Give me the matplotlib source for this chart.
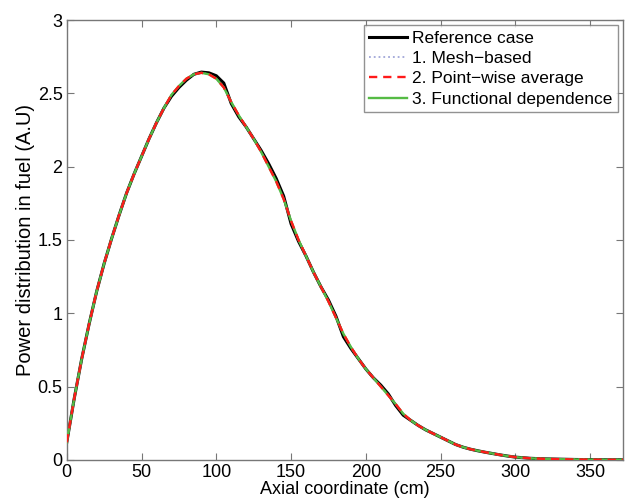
import matplotlib
matplotlib.use("Agg")
import matplotlib.pyplot as plt

plt.rcParams['font.family'] = ['Liberation Sans', 'DejaVu Sans']

# Axial coordinate (cm)
x = [0, 5, 10, 15, 20, 25, 30, 35, 40, 45, 50, 55, 60, 65, 70, 75, 80, 85, 90,
     95, 100, 105, 110, 115, 120, 125, 130, 135, 140, 145, 150, 155, 160, 165,
     170, 175, 180, 185, 190, 195, 200, 205, 210, 215, 220, 225, 230, 235, 240,
     245, 250, 255, 260, 265, 270, 275, 280, 285, 290, 295, 300, 310, 320, 330,
     340, 350, 360, 372]
# 3. Functional dependence
func = [0.12, 0.42, 0.69, 0.93, 1.15, 1.34, 1.51, 1.67, 1.82, 1.95, 2.07, 2.19,
        2.30, 2.40, 2.49, 2.55, 2.60, 2.63, 2.64, 2.63, 2.60, 2.54, 2.44, 2.35,
        2.27, 2.19, 2.10, 2.00, 1.90, 1.78, 1.63, 1.50, 1.39, 1.28, 1.18, 1.08,
        0.97, 0.86, 0.77, 0.69, 0.62, 0.56, 0.50, 0.44, 0.38, 0.315, 0.27, 0.235,
        0.205, 0.18, 0.155, 0.13, 0.105, 0.087, 0.073, 0.062, 0.052, 0.043,
        0.034, 0.026, 0.019, 0.011, 0.007, 0.005, 0.003, 0.002, 0.001, 0.001]
# 2. Point-wise average
pwa = [0.12, 0.42, 0.69, 0.93, 1.15, 1.34, 1.51, 1.67, 1.82, 1.95, 2.07, 2.19,
       2.30, 2.40, 2.49, 2.55, 2.60, 2.63, 2.64, 2.63, 2.60, 2.54, 2.44, 2.35,
       2.27, 2.19, 2.10, 2.00, 1.90, 1.78, 1.63, 1.50, 1.39, 1.28, 1.18, 1.08,
       0.97, 0.86, 0.77, 0.69, 0.62, 0.56, 0.50, 0.44, 0.38, 0.315, 0.27, 0.235,
       0.205, 0.18, 0.155, 0.13, 0.105, 0.087, 0.073, 0.062, 0.052, 0.043,
       0.034, 0.026, 0.019, 0.011, 0.007, 0.005, 0.003, 0.002, 0.001, 0.001]
# 1. Mesh-based
mesh = [0.12, 0.42, 0.69, 0.93, 1.15, 1.34, 1.51, 1.67, 1.82, 1.95, 2.07, 2.19,
        2.30, 2.40, 2.49, 2.55, 2.60, 2.63, 2.64, 2.63, 2.60, 2.54, 2.44, 2.35,
        2.27, 2.19, 2.10, 2.00, 1.90, 1.78, 1.63, 1.50, 1.39, 1.28, 1.18, 1.08,
        0.97, 0.86, 0.77, 0.69, 0.62, 0.56, 0.50, 0.44, 0.38, 0.315, 0.27, 0.235,
        0.205, 0.18, 0.155, 0.13, 0.105, 0.087, 0.073, 0.062, 0.052, 0.043,
        0.034, 0.026, 0.019, 0.011, 0.007, 0.005, 0.003, 0.002, 0.001, 0.001]
# Reference case
ref = [0.12, 0.42, 0.69, 0.93, 1.15, 1.34, 1.51, 1.67, 1.82, 1.95, 2.07, 2.19,
       2.30, 2.40, 2.48, 2.54, 2.59, 2.63, 2.645, 2.64, 2.62, 2.57, 2.43, 2.34,
       2.27, 2.19, 2.11, 2.02, 1.92, 1.80, 1.61, 1.49, 1.39, 1.28, 1.18, 1.09,
       0.98, 0.84, 0.76, 0.69, 0.62, 0.56, 0.51, 0.45, 0.37, 0.305, 0.27, 0.235,
       0.205, 0.18, 0.155, 0.13, 0.105, 0.087, 0.073, 0.062, 0.052, 0.043,
       0.034, 0.026, 0.019, 0.011, 0.007, 0.005, 0.003, 0.002, 0.001, 0.001]

labels = ["Reference case", "1. Mesh\u2212based", "2. Point\u2212wise average",
          "3. Functional dependence"]

fig = plt.figure(figsize=(6.30, 5.01), dpi=100)
ax = fig.add_axes([0.106, 0.082, 0.883, 0.878])

ax.plot(x, ref, color='black', lw=2.2, label=labels[0], zorder=2)
ax.plot(x, mesh, color='#a0a6d8', lw=1.3, ls=':', label=labels[1], zorder=3)
ax.plot(x, pwa, color='#ff1a1a', lw=1.7, ls=(0, (3.5, 2.5)), label=labels[2], zorder=5)
ax.plot(x, func, color='#55bb44', lw=1.7, label=labels[3], zorder=4)

ax.set_xlim(0, 372)
ax.set_ylim(0, 3)
ax.set_xticks([0, 50, 100, 150, 200, 250, 300, 350])
ax.set_yticks([0, 0.5, 1, 1.5, 2, 2.5, 3])
ax.set_yticklabels(['0', '0.5', '1', '1.5', '2', '2.5', '3'])
ax.tick_params(direction='in', top=True, right=True, labelsize=13, length=5,
               color='#777777', pad=3)
for s in ax.spines.values():
    s.set_color('#777777')
    s.set_linewidth(1.0)

ax.set_xlabel('Axial coordinate (cm)', fontsize=13, labelpad=0)
ax.set_ylabel('Power distribution in fuel (A.U)', fontsize=14.5, labelpad=2)

leg = ax.legend(loc='upper right', fontsize=12.5, frameon=True, fancybox=False,
                edgecolor='#777777', borderaxespad=0.3, handlelength=2.2,
                handletextpad=0.3, labelspacing=0.3, borderpad=0.3)
leg.get_frame().set_linewidth(1.0)

fig.savefig('out.png', dpi=100)
